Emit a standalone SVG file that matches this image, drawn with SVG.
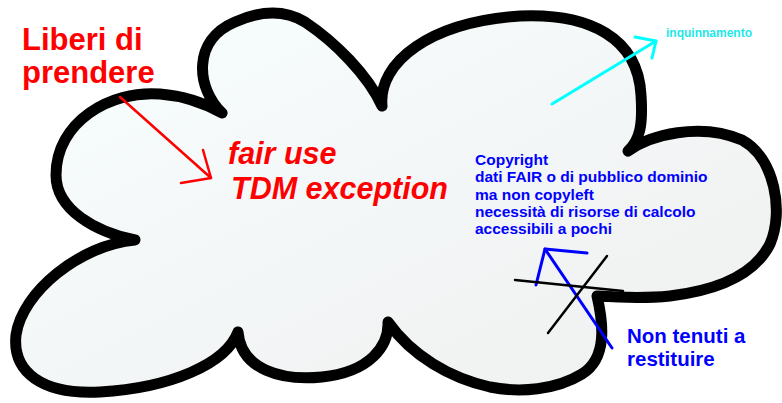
<svg xmlns="http://www.w3.org/2000/svg" width="782" height="403" viewBox="0 0 782 403">
  <defs>
    <linearGradient id="cloudFill" x1="0" y1="0" x2="1" y2="1">
      <stop offset="0" stop-color="#f8feff"/>
      <stop offset="1" stop-color="#efefef"/>
    </linearGradient>
  </defs>
  <style>
    .cloud { fill: url(#cloudFill); stroke: #000; stroke-width: 11; stroke-linejoin: round; stroke-linecap: round; }
    .red { fill: #ff0000; font-family: "Liberation Sans", Arial, sans-serif; font-weight: bold; }
    .blue { fill: #0000ff; font-family: "Liberation Sans", Arial, sans-serif; font-weight: bold; }
    .cyan { fill: #22e8e8; font-family: "Liberation Sans", Arial, sans-serif; font-weight: bold; }
    .conn { fill: none; stroke-linecap: round; stroke-linejoin: round; }
  </style>
  <rect width="782" height="403" fill="#ffffff"/>
  <g id="cloud">
    <path class="cloud" d="M222,113 C196,88 192,40 235,22 C262,10 285,10 305,22 C335,42 368,75 382,106 C378,62 430,22 520,16 C590,13 638,38 641,95 C643,125 640,140 628,151 C650,135 700,122 742,140 C775,158 784,212 770,244 C755,274 720,290 670,296 C640,299 612,297 597,296 C603,322 608,358 582,374 C556,390 520,393 490,387 C450,378 412,356 388,322 C389,346 370,372 322,377 C282,381 241,370 238,332 C226,364 170,388 100,392 C42,395 12,372 16,335 C22,292 80,245 135,240 C96,232 56,210 56,175 C56,122 110,90 160,94 C186,96 206,104 222,113 Z"/>
  </g>
  <g id="connectors">
    <g id="arrow-red" class="conn" stroke="#ff0000" stroke-width="2.5">
      <line x1="120" y1="97" x2="211" y2="178"/>
      <polyline points="203,150 211,178 181,183"/>
    </g>
    <g id="arrow-cyan" class="conn" stroke="#00ffff" stroke-width="3">
      <line x1="552" y1="104" x2="656" y2="41"/>
      <polyline points="635,37 656,41 652,58"/>
    </g>
    <g id="arrow-blue" class="conn" stroke="#0000ff" stroke-width="3">
      <line x1="612" y1="348" x2="545" y2="249"/>
      <polyline points="587,253 545,249 536,285"/>
    </g>
    <g id="cross" class="conn" stroke="#000000" stroke-width="2.5">
      <line x1="515" y1="280" x2="623" y2="291"/>
      <line x1="607" y1="256" x2="548" y2="333"/>
    </g>
  </g>
  <g id="label-liberi">
    <text class="red" font-size="31" x="22" y="50">Liberi di</text>
    <text class="red" font-size="31" x="22" y="83">prendere</text>
  </g>
  <g id="label-fairuse">
    <text class="red" font-size="30.5" font-style="italic" x="228" y="164">fair use</text>
    <text class="red" font-size="30.5" font-style="italic" x="231" y="199">TDM exception</text>
  </g>
  <g id="label-copyright">
    <text class="blue" font-size="15.5" x="475" y="165">Copyright</text>
    <text class="blue" font-size="15.5" x="475" y="182">dati FAIR o di pubblico dominio</text>
    <text class="blue" font-size="15.5" x="475" y="199.5">ma non copyleft</text>
    <text class="blue" font-size="15.5" x="475" y="217">necessità di risorse di calcolo</text>
    <text class="blue" font-size="15.5" x="475" y="234">accessibili a pochi</text>
  </g>
  <g id="label-inquinnamento">
    <text class="cyan" font-size="12" x="666" y="37">inquinnamento</text>
  </g>
  <g id="label-nontenuti">
    <text class="blue" font-size="20.5" x="627" y="343">Non tenuti a</text>
    <text class="blue" font-size="20.5" x="627" y="366">restituire</text>
  </g>
</svg>
